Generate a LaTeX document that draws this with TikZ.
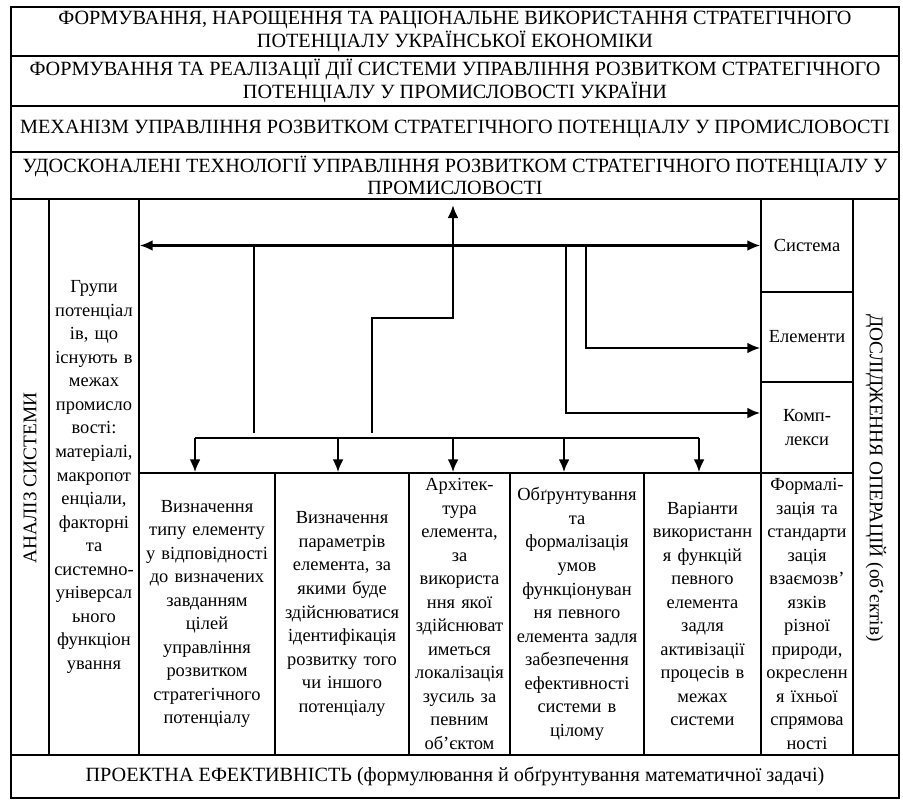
\documentclass[tikz,border=0pt]{standalone}
\usepackage{fontspec}
\setmainfont{Liberation Serif}
\usetikzlibrary{arrows.meta}

\newcommand\celltext{\fontsize{10.5}{13.4}\selectfont}
\newcommand\headtext{\fontsize{11.5}{12.8}\selectfont}
\newcommand\sidetext{\fontsize{11}{13}\selectfont}

\tikzset{
  cell/.style={draw, line width=0.8pt, inner sep=0pt, align=center, font=\celltext},
  head/.style={align=center, font=\headtext},
  side/.style={font=\sidetext},
  thinline/.style={line width=0.6pt},
  thickline/.style={line width=1.6pt},
  arr/.style={line width=1.4pt, -{Latex[length=2.6mm,width=2.2mm]}},
  arrs/.style={line width=1.4pt, {Latex[length=2.6mm,width=2.2mm]}-{Latex[length=2.6mm,width=2.2mm]}},
}

\begin{document}
\begin{tikzpicture}[x=0.02cm, y=-0.02cm]
\useasboundingbox (0,0) rectangle (903,805);

% header rows
\draw[line width=0.8pt] (11,56) -- (899,56);
\draw[line width=0.8pt] (11,106) -- (899,106);
\draw[line width=0.8pt] (11,152) -- (899,152);
\draw[line width=0.8pt] (11,199) -- (899,199);
    \node[head] (r1) at (455,31.5) {ФОРМУВАННЯ, НАРОЩЕННЯ ТА РАЦІОНАЛЬНЕ ВИКОРИСТАННЯ СТРАТЕГІЧНОГО\\ПОТЕНЦІАЛУ УКРАЇНСЬКОЇ ЕКОНОМІКИ};
    \node[head] (r2) at (455,81) {ФОРМУВАННЯ ТА РЕАЛІЗАЦІЇ ДІЇ СИСТЕМИ УПРАВЛІННЯ РОЗВИТКОМ СТРАТЕГІЧНОГО\\ПОТЕНЦІАЛУ У ПРОМИСЛОВОСТІ УКРАЇНИ};
    \node[head] (r3) at (455,129) {МЕХАНІЗМ УПРАВЛІННЯ РОЗВИТКОМ СТРАТЕГІЧНОГО ПОТЕНЦІАЛУ У ПРОМИСЛОВОСТІ};
    \node[head] (r4) at (455,175.5) {УДОСКОНАЛЕНІ ТЕХНОЛОГІЇ УПРАВЛІННЯ РОЗВИТКОМ СТРАТЕГІЧНОГО ПОТЕНЦІАЛУ У\\ПРОМИСЛОВОСТІ};

% side columns
\draw[thinline] (49,199) -- (49,755);
    \node[side, rotate=90] (anal) at (30,478) {АНАЛІЗ СИСТЕМИ};
    \node[side, rotate=-90] (dosl) at (876,478) {ДОСЛІДЖЕННЯ ОПЕРАЦІЙ (об’єктів)};
    \node[cell, text width=1.80cm, minimum height=11.12cm] (grp) at (94,477) {Групи\\потенціал\\ів, що\\існують в\\межах\\промисло\\вості:\\матеріалі,\\макропот\\енціали,\\факторні\\та\\системно-\\універсал\\ьного\\функціон\\ування};

% right boxes
    \node[cell, text width=1.84cm, minimum height=1.86cm] (sys) at (807,245.5) {Система};
    \node[cell, text width=1.84cm, minimum height=1.80cm] (elem) at (807,337) {Елементи};
    \node[cell, text width=1.84cm, minimum height=1.82cm] (kompl) at (807,427.5) {Комп-\\лекси};

% lower boxes
    \node[cell, text width=2.72cm, minimum height=5.64cm] (b1) at (207,614) {Визначення\\типу елементу\\у відповідності\\до визначених\\завданням\\цілей\\управління\\розвитком\\стратегічного\\потенціалу};
    \node[cell, text width=2.68cm, minimum height=5.64cm] (b2) at (342,614) {Визначення\\параметрів\\елемента, за\\якими буде\\здійснюватися\\ідентифікація\\розвитку того\\чи іншого\\потенціалу};
    \node[cell, text width=2.02cm, minimum height=5.64cm] (b3) at (459.5,614) {Архітек-\\тура\\елемента,\\за\\використа\\ння якої\\здійснюват\\иметься\\локалізація\\зусиль за\\певним\\об’єктом};
    \node[cell, text width=2.68cm, minimum height=5.64cm] (b4) at (577,614) {Обґрунтування\\та\\формалізація\\умов\\функціонуван\\ня певного\\елемента задля\\забезпечення\\ефективності\\системи в\\цілому};
    \node[cell, text width=2.34cm, minimum height=5.64cm] (b5) at (702.5,614) {Варіанти\\використанн\\я функцій\\певного\\елемента\\задля\\активізації\\процесів в\\межах\\системи};
    \node[cell, text width=1.84cm, minimum height=5.64cm] (b6) at (807,614) {Формалі-\\зація та\\стандарти\\зація\\взаємозв’\\язків\\різної\\природи,\\окресленн\\я їхньої\\спрямова\\ності};

    \node[head] (bot) at (455,776) {ПРОЕКТНА ЕФЕКТИВНІСТЬ (формулювання й обґрунтування математичної задачі)};

% frame
\draw[thickline] (11,7) rectangle (899,798);
\draw[thickline] (11,755) -- (899,755);
\draw[thickline] (139,199) -- (139,755);
\draw[thickline] (853,199) -- (853,755);

% arrows
\coordinate (e1) at (586,247);
\coordinate (k1) at (566,247);
\coordinate (s0) at (372,433);
\coordinate (s1) at (372,318);
\coordinate (up) at (453,205);
\coordinate (t0) at (254,433);
\coordinate (d1) at (195,438);
\coordinate (d2) at (338,438);
\coordinate (d3) at (453,438);
\coordinate (d4) at (564,438);
\coordinate (d5) at (699,438);

     \draw[arrs] (grp.east |- sys.west) -- (sys.west);
     \draw[arr] (e1) |- ([yshift=-0.22cm]elem.west);
     \draw[arr] (k1) |- ([yshift=0.29cm]kompl.west);
     \draw[arr] (s0) -- (s1) -| (up);
     \draw[thinline] (t0) -- (t0 |- sys.west);
     \draw[thinline] (d1) -- (d5);
     \foreach \i/\b in {1/b1,2/b2,3/b3,4/b4,5/b5}
        \draw[arr] (d\i) -- (d\i |- \b.north);
\end{tikzpicture}
\end{document}
